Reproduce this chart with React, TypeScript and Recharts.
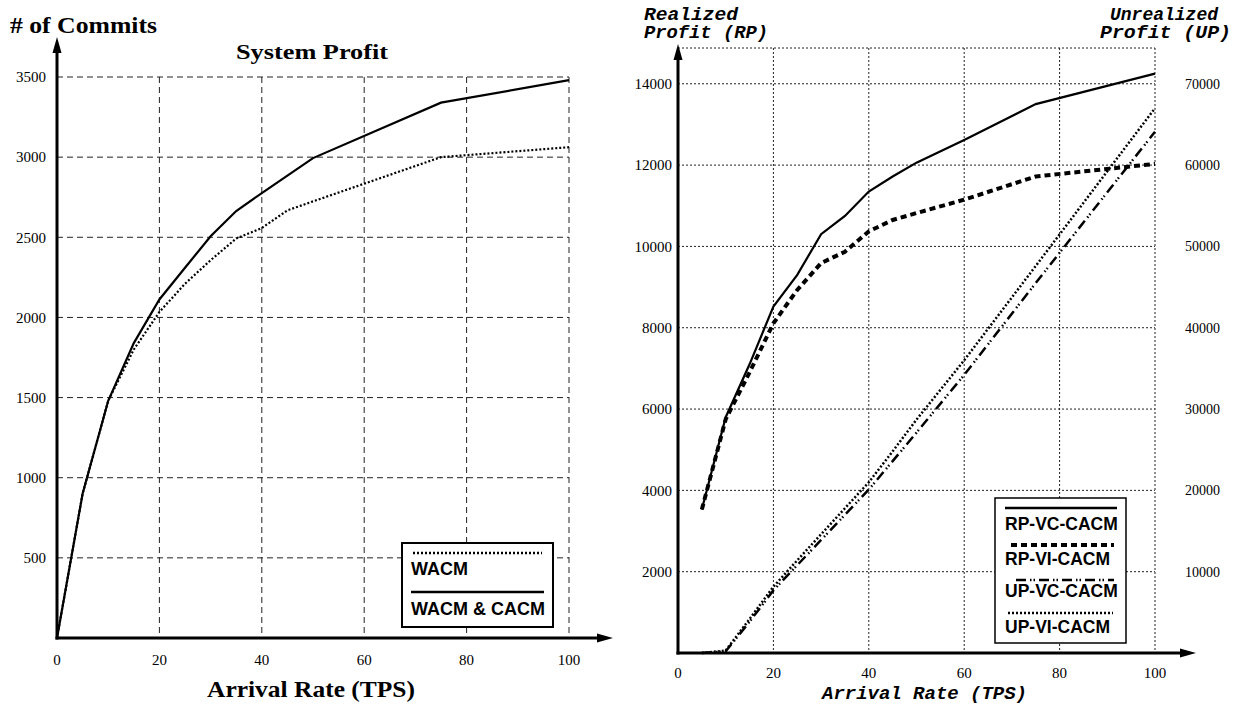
import React from "react";
import { LineChart, Line, XAxis, YAxis, CartesianGrid } from "recharts";

// left chart: system profit (# of commits)
const commitRates = [0, 5, 10, 15, 20, 25, 30, 35, 40, 45, 50, 75, 100];
const wacmCommits = [0, 900, 1480, 1800, 2034, 2210, 2357, 2492, 2558, 2668, 2724, 3000, 3062];
const wacmCacmCommits = [0, 900, 1480, 1840, 2112, 2310, 2506, 2664, 2776, 2885, 2994, 3340, 3480];

// right chart: realized / unrealized profit
const profitRates = [5, 10, 15, 20, 25, 30, 35, 40, 45, 50, 60, 75, 100];
const rpVcCacm = [3530, 5800, 7100, 8520, 9300, 10300, 10750, 11350, 11720, 12060, 12620, 13500, 14250];
const rpViCacm = [3530, 5750, 6900, 8110, 8930, 9590, 9870, 10370, 10650, 10820, 11150, 11720, 12030];
const upVcCacm = [0, 200, 3850, 7700, 10800, 13900, 17000, 20100, 23600, 27100, 34200, 45500, 64100];
const upViCacm = [0, 300, 4180, 8150, 11400, 14600, 17800, 21000, 24800, 28700, 36000, 47600, 67000];

const rateTicks = [0, 20, 40, 60, 80, 100];
const commitTicks = [500, 1000, 1500, 2000, 2500, 3000, 3500];
const rpTicks = [2000, 4000, 6000, 8000, 10000, 12000, 14000];
const upTicks = [10000, 20000, 30000, 40000, 50000, 60000, 70000];

const commitData = commitRates.map((rate, i) => ({
  rate,
  wacm: wacmCommits[i],
  both: wacmCacmCommits[i],
}));

const profitData = profitRates.map((rate, i) => ({
  rate,
  rpVc: rpVcCacm[i],
  rpVi: rpViCacm[i],
  upVc: upVcCacm[i],
  upVi: upViCacm[i],
}));

const serif = "'Liberation Serif', 'Times New Roman', serif";
const sans = "'Liberation Sans', Arial, sans-serif";
const mono = "'Liberation Mono', 'Courier New', monospace";

const tickStyle = { fill: "#000", fontSize: 15, fontFamily: serif };
const DASH_DOT = "10 4 1.5 2 1.5 4";

function Arrow({ x1, y1, x2, y2 }: { x1: number; y1: number; x2: number; y2: number }) {
  // axis with a filled head at (x2, y2)
  const vertical = x1 === x2;
  const len = 16;
  const half = 4.5;
  const dir = vertical ? Math.sign(y2 - y1) : Math.sign(x2 - x1);
  const head = vertical
    ? `${x2},${y2} ${x2 - half},${y2 - dir * len} ${x2 + half},${y2 - dir * len}`
    : `${x2},${y2} ${x2 - dir * len},${y2 - half} ${x2 - dir * len},${y2 + half}`;
  return (
    <g>
      <line
        x1={x1}
        y1={y1}
        x2={vertical ? x2 : x2 - dir * len}
        y2={vertical ? y2 - dir * len : y2}
        stroke="#000"
        strokeWidth={3}
      />
      <polygon points={head} fill="#000" />
    </g>
  );
}

function MonoText({ x, y, w, children }: { x: number; y: number; w: number; children: string }) {
  return (
    <text
      x={x}
      y={y}
      textLength={w}
      lengthAdjust="spacingAndGlyphs"
      fontFamily={mono}
      fontWeight="bold"
      fontStyle="italic"
      fontSize={17.5}
    >
      {children}
    </text>
  );
}

function Overlay() {
  return (
    <svg
      width={1235}
      height={705}
      style={{ position: "absolute", left: 0, top: 0, pointerEvents: "none" }}
    >
      {/* left chart axes + titles */}
      <Arrow x1={57} y1={639.5} x2={57} y2={37} />
      <Arrow x1={55.5} y1={638} x2={613} y2={638} />
      <text x={10} y={33} fontFamily={serif} fontWeight="bold" fontSize={23} textLength={147} lengthAdjust="spacingAndGlyphs">
        # of Commits
      </text>
      <text x={236} y={59} fontFamily={serif} fontWeight="bold" fontSize={20} textLength={152} lengthAdjust="spacingAndGlyphs">
        System Profit
      </text>
      <text x={207} y={697} fontFamily={serif} fontWeight="bold" fontSize={23} textLength={208} lengthAdjust="spacingAndGlyphs">
        Arrival Rate (TPS)
      </text>

      {/* left legend */}
      <rect x={402} y={543} width={151} height={84} fill="#fff" stroke="#000" strokeWidth={2} />
      <line x1={413} y1={553} x2={542} y2={553} stroke="#000" strokeWidth={2.5} strokeDasharray="2 2" />
      <text x={411} y={575} fontFamily={sans} fontWeight="bold" fontSize={18}>WACM</text>
      <line x1={411} y1={592} x2={544} y2={592} stroke="#000" strokeWidth={2.5} />
      <text x={411} y={615} fontFamily={sans} fontWeight="bold" fontSize={18}>WACM &amp; CACM</text>

      {/* right chart axes + titles */}
      <Arrow x1={678} y1={654.5} x2={678} y2={44} />
      <Arrow x1={676.5} y1={653} x2={1196} y2={653} />
      <MonoText x={644} y={20} w={94}>Realized</MonoText>
      <MonoText x={644} y={38} w={124}>Profit (RP)</MonoText>
      <MonoText x={1110} y={20} w={108}>Unrealized</MonoText>
      <MonoText x={1100} y={38} w={131}>Profit (UP)</MonoText>
      <MonoText x={822} y={699} w={205}>Arrival Rate (TPS)</MonoText>

      {/* right legend */}
      <rect x={995} y={498} width={131} height={145} fill="#fff" stroke="#000" strokeWidth={1.5} />
      <g fontFamily={sans} fontWeight="bold" fontSize={17.5}>
        <line x1={1005} y1={508} x2={1117} y2={508} stroke="#000" strokeWidth={2.5} />
        <text x={1005} y={530}>RP-VC-CACM</text>
        <line x1={1011} y1={545} x2={1114} y2={545} stroke="#000" strokeWidth={4} strokeDasharray="6 4" />
        <text x={1005} y={565}>RP-VI-CACM</text>
        <line x1={1016} y1={580} x2={1114} y2={580} stroke="#000" strokeWidth={2.5} strokeDasharray={DASH_DOT} />
        <text x={1005} y={597}>UP-VC-CACM</text>
        <line x1={1008} y1={613} x2={1113} y2={613} stroke="#000" strokeWidth={2.5} strokeDasharray="2 2" />
        <text x={1005} y={633}>UP-VI-CACM</text>
      </g>
    </svg>
  );
}

export default function App() {
  return (
    <div style={{ position: "absolute", left: 0, top: 0, width: 1235, height: 705, background: "#fff" }}>
      <div style={{ position: "absolute", left: 0, top: 0 }}>
        <LineChart width={620} height={705} data={commitData} margin={{ top: 77, right: 51, bottom: 0, left: 0 }}>
          <CartesianGrid stroke="#222" strokeDasharray="6 4" />
          <XAxis
            dataKey="rate"
            type="number"
            domain={[0, 100]}
            ticks={rateTicks}
            interval={0}
            height={67}
            axisLine={false}
            tickLine={false}
            tickSize={0}
            tickMargin={16}
            tick={tickStyle}
          />
          <YAxis
            type="number"
            domain={[0, 3500]}
            ticks={commitTicks}
            interval={0}
            width={57}
            axisLine={false}
            tickLine={false}
            tickSize={0}
            tickMargin={11}
            tick={tickStyle}
          />
          <Line type="linear" dataKey="wacm" stroke="#000" strokeWidth={2.2} strokeDasharray="2 2" dot={false} isAnimationActive={false} />
          <Line type="linear" dataKey="both" stroke="#000" strokeWidth={2.2} dot={false} isAnimationActive={false} />
        </LineChart>
      </div>
      <div style={{ position: "absolute", left: 620, top: 0 }}>
        <LineChart width={615} height={705} data={profitData} margin={{ top: 48, right: 0, bottom: 0, left: 0 }}>
          <CartesianGrid yAxisId="rp" stroke="#222" strokeDasharray="2 2" />
          <XAxis
            dataKey="rate"
            type="number"
            domain={[0, 100]}
            ticks={rateTicks}
            interval={0}
            height={52}
            axisLine={false}
            tickLine={false}
            tickSize={0}
            tickMargin={14}
            tick={tickStyle}
          />
          <YAxis
            yAxisId="rp"
            type="number"
            domain={[0, 14880]}
            ticks={rpTicks}
            interval={0}
            width={58}
            axisLine={false}
            tickLine={false}
            tickSize={0}
            tickMargin={6}
            tick={tickStyle}
          />
          <YAxis
            yAxisId="up"
            orientation="right"
            type="number"
            domain={[0, 74400]}
            ticks={upTicks}
            interval={0}
            width={80}
            axisLine={false}
            tickLine={false}
            tickSize={0}
            tickMargin={30}
            tick={{ ...tickStyle, fontSize: 14 }}
          />
          <Line yAxisId="up" type="linear" dataKey="upVi" stroke="#000" strokeWidth={2.5} strokeDasharray="2 2" dot={false} isAnimationActive={false} />
          <Line yAxisId="up" type="linear" dataKey="upVc" stroke="#000" strokeWidth={2.5} strokeDasharray={DASH_DOT} dot={false} isAnimationActive={false} />
          <Line yAxisId="rp" type="linear" dataKey="rpVi" stroke="#000" strokeWidth={4} strokeDasharray="6 4" dot={false} isAnimationActive={false} />
          <Line yAxisId="rp" type="linear" dataKey="rpVc" stroke="#000" strokeWidth={2.2} dot={false} isAnimationActive={false} />
        </LineChart>
      </div>
      <Overlay />
    </div>
  );
}
